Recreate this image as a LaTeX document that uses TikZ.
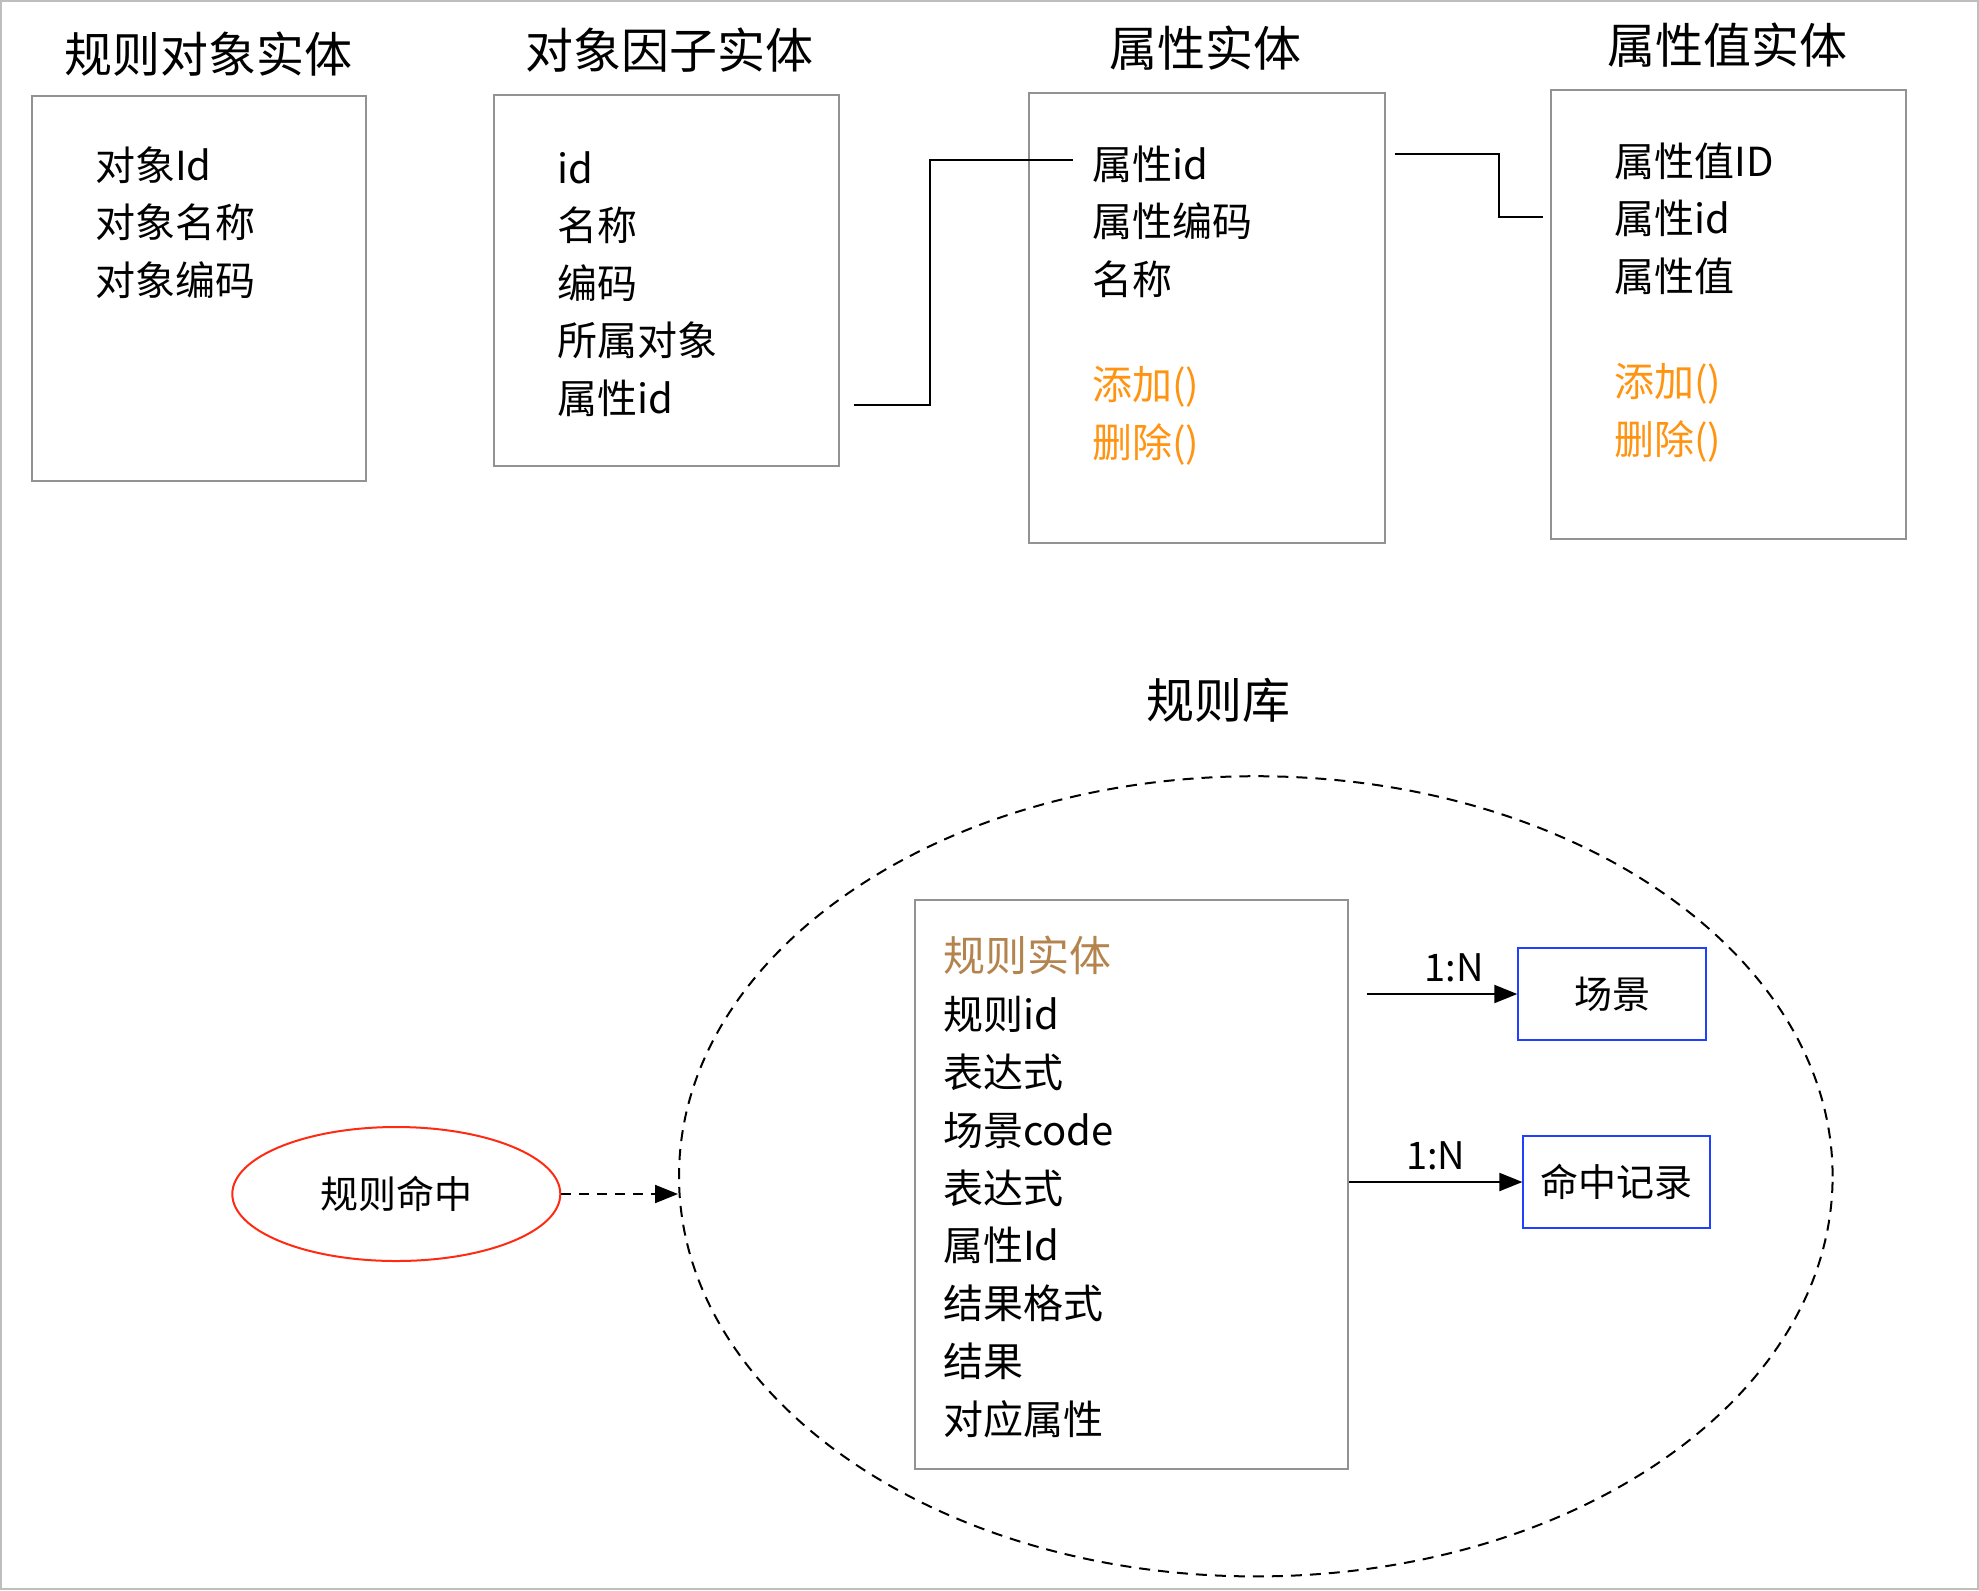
\documentclass[tikz,border=0pt]{standalone}
\usepackage{fontspec}
\setmainfont{Noto Sans CJK SC}
\usepackage{xcolor}
\usepackage{tikz}
\usetikzlibrary{positioning, arrows.meta, shapes.geometric}
\definecolor{framegray}{HTML}{929292}
\definecolor{methodorange}{HTML}{FF9412}
\definecolor{rulebrown}{HTML}{B4844E}
\definecolor{hitred}{HTML}{FF2A12}
\definecolor{sideblue}{HTML}{2040FF}

\tikzset{
  entity/.style={draw=framegray, line width=1pt, inner sep=0pt},
  heading/.style={font=\fontsize{24}{28}\selectfont, inner sep=0pt},
  fields/.style={anchor=north west, align=left, inner sep=0pt,
                 font=\fontsize{20}{28.75}\selectfont},
  wire/.style={line width=1pt},
  sidebox/.style={draw=sideblue, line width=1pt, inner sep=0pt,
                  font=\fontsize{19}{22}\selectfont},
  ratio/.style={font=\fontsize{19}{22}\selectfont, above=2pt},
  flow/.style={line width=1pt, -{Triangle[length=11.5pt, width=9pt]}},
}

\begin{document}
\begin{tikzpicture}[x=0.5pt, y=-0.5pt]
  \useasboundingbox (0,0) rectangle (1979,1590);
  \draw[framegray!60, line width=1pt] (1,1) rectangle (1978,1589);

  % entities along the top
  \node[entity, minimum width=167.2pt, minimum height=192.5pt] (objbox) at (198.8,288.5) {};
  \node[heading] (objtitle) at (208,54) {规则对象实体};
  \node[fields] (objrows) at (94.7,146) {对象Id\\对象名称\\对象编码};

  \node[entity, minimum width=172.9pt, minimum height=185.5pt] (factorbox) at (666.4,280.2) {};
  \node[heading] (factortitle) at (669,50) {对象因子实体};
  \node[fields] (factorrows) at (556.6,151) {id\\名称\\编码\\所属对象\\属性id};

  \node[entity, minimum width=178pt, minimum height=224.7pt] (attrbox) at (1206.6,318) {};
  \node[heading] (attrtitle) at (1205,48) {属性实体};
  \node[fields] (attrrows) at (1091.7,145) {属性id\\属性编码\\名称\\[24pt]
    {\color{methodorange}添加()}\\{\color{methodorange}删除()}};

  \node[entity, minimum width=177.4pt, minimum height=224.7pt] (valbox) at (1728.5,314.3) {};
  \node[heading] (valtitle) at (1727,45) {属性值实体};
  \node[fields] (valrows) at (1614,142) {属性值ID\\属性id\\属性值\\[24pt]
    {\color{methodorange}添加()}\\{\color{methodorange}删除()}};

  % key links
  \coordinate (fkout) at (854.4,405);
  \coordinate (pkin) at (1072.8,160.3);
  \draw[wire] (fkout) -- ++(75.8,0) |- (pkin);
  \coordinate (pkout) at (1394.6,154);
  \coordinate (vkin) at (1542.6,217);
  \draw[wire] (pkout) -- ++(104.8,0) |- (vkin);

  % rule library
  \node[heading] (libtitle) at (1218,700) {规则库};
  \node[draw, ellipse, line width=1pt, dash pattern=on 5.5pt off 4pt, inner sep=0pt,
        minimum width=576.8pt, minimum height=400.1pt] (libring) at (1255.8,1176.3) {};

  \node[entity, minimum width=216.5pt, minimum height=284.5pt] (rulebox) at (1131.5,1184.5) {};
  \node[fields, font=\fontsize{20}{28.9}\selectfont] (rulerows) at (942.8,936)
    {{\fontsize{21}{28.9}\selectfont\color{rulebrown}规则实体}\\规则id\\表达式\\场景code\\表达式\\属性Id\\结果格式\\结果\\对应属性};

  \node[sidebox, minimum width=94pt, minimum height=46pt] (scene) at (1612.3,994) {场景};
  \node[sidebox, minimum width=93.4pt, minimum height=46pt] (hitlog) at (1616.8,1182) {命中记录};
  \draw[flow] ([xshift=8.8pt]rulebox.east |- scene.west) -- (scene.west) node[ratio, pos=0.58] {1:N};
  \draw[flow] (rulebox.east |- hitlog.west) -- (hitlog.west) node[ratio, pos=0.5] {1:N};

  \node[draw=hitred, ellipse, line width=1pt, inner sep=0pt, minimum width=164pt,
        minimum height=67pt, font=\fontsize{19}{22}\selectfont] (hit) at (396.3,1194) {规则命中};
  \draw[flow, dash pattern=on 5pt off 4pt] (hit.east) -- (hit.east -| libring.west);
\end{tikzpicture}
\end{document}
